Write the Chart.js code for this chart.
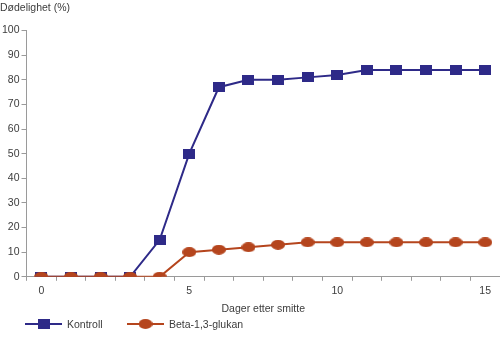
<!DOCTYPE html>
<html>
<head>
<meta charset="utf-8">
<script src="https://cdn.jsdelivr.net/npm/chart.js@4"></script>
<style>
  html, body { margin: 0; padding: 0; background: #fff; overflow: hidden; }
  /* canvas is a little wider than the window: Chart.js keeps a gap on the right */
  #wrap { width: 506px; height: 340px; position: relative; }
</style>
</head>
<body>
<div id="wrap"><canvas id="chart"></canvas></div>
<script>
// ── Data ─────────────────────────────────────────────────────
const days      = [0, 1, 2, 3, 4, 5, 6, 7, 8, 9, 10, 11, 12, 13, 14, 15];
const kontroll  = [0, 0, 0, 0, 15, 50, 77, 80, 80, 81, 82, 84, 84, 84, 84, 84];
const betaGlukan = [0, 0, 0, 0, 0, 10, 11, 12, 13, 14, 14, 14, 14, 14, 14, 14];
const shownDays = [0, 5, 10, 15];

const BLUE   = '#2e2a88';
const ORANGE = '#b5451d';
const TEXT   = '#3c3c3c';
const AXIS   = '#9a9a9a';
const FONT   = "'Liberation Sans', Arial, sans-serif";

// markers are slightly wider than tall in the original
function marker(shape, w, h, color) {
  const c = document.createElement('canvas');
  c.width = w; c.height = h;
  const g = c.getContext('2d');
  g.fillStyle = color;
  if (shape === 'rect') g.fillRect(0, 0, w, h);
  else { g.beginPath(); g.ellipse(w / 2, h / 2, w / 2, h / 2, 0, 0, Math.PI * 2); g.fill(); }
  return c;
}
const squareMark  = marker('rect', 12, 10, BLUE);
const ellipseMark = marker('ellipse', 14, 10, ORANGE);

// ── Legend drawn below the axis title ────────────────────────
const bottomLegend = {
  id: 'bottomLegend',
  afterDraw(chart) {
    const ctx = chart.ctx;
    const y = 324;
    const items = [
      { x: 25,  label: 'Kontroll',       color: BLUE,   img: squareMark },
      { x: 127, label: 'Beta-1,3-glukan', color: ORANGE, img: ellipseMark }
    ];
    ctx.save();
    items.forEach(it => {
      ctx.strokeStyle = it.color;
      ctx.lineWidth = 2;
      ctx.beginPath();
      ctx.moveTo(it.x, y); ctx.lineTo(it.x + 37, y);
      ctx.stroke();
      ctx.drawImage(it.img, it.x + 18.5 - it.img.width / 2, y - it.img.height / 2);
      ctx.fillStyle = TEXT;
      ctx.font = '10.5px ' + FONT;
      ctx.textBaseline = 'middle';
      ctx.fillText(it.label, it.x + 42, y + 1);
    });
    ctx.restore();
  }
};

const ctx = document.getElementById('chart').getContext('2d');
new Chart(ctx, {
  type: 'line',
  data: {
    labels: days,
    datasets: [
      {
        label: 'Kontroll',
        data: kontroll,
        borderColor: BLUE,
        backgroundColor: BLUE,
        borderWidth: 2,
        pointStyle: squareMark,
        tension: 0,
        order: 2
      },
      {
        label: 'Beta-1,3-glukan',
        data: betaGlukan,
        borderColor: ORANGE,
        backgroundColor: ORANGE,
        borderWidth: 2,
        pointStyle: ellipseMark,
        tension: 0,
        order: 1
      }
    ]
  },
  options: {
    responsive: true,
    maintainAspectRatio: false,
    animation: false,
    layout: { padding: { left: 0, right: 0, top: 0, bottom: 25 } },
    plugins: {
      legend: { display: false },
      tooltip: { enabled: false },
      title: {
        display: true,
        text: 'Dødelighet (%)',
        align: 'start',
        color: TEXT,
        font: { family: FONT, size: 10.5, weight: 'normal' },
        padding: { top: 2, bottom: 16 }
      }
    },
    scales: {
      x: {
        type: 'category',
        offset: true,
        grid: { offset: true, drawOnChartArea: false, drawTicks: true, tickLength: 4, color: AXIS },
        border: { color: AXIS, width: 1 },
        ticks: {
          autoSkip: false,
          maxRotation: 0,
          padding: 4,
          color: TEXT,
          font: { family: FONT, size: 10.5 },
          callback(v, i) { return shownDays.includes(days[i]) ? String(days[i]) : ''; }
        },
        title: {
          display: true,
          text: 'Dager etter smitte',
          color: TEXT,
          font: { family: FONT, size: 10.5 },
          padding: { top: 1, bottom: 0 }
        }
      },
      y: {
        min: 0,
        max: 100,
        grid: { drawOnChartArea: false, drawTicks: true, tickLength: 5, color: AXIS },
        border: { color: AXIS, width: 1 },
        ticks: {
          stepSize: 10,
          padding: 2,
          color: TEXT,
          font: { family: FONT, size: 10.5 }
        }
      }
    }
  },
  plugins: [bottomLegend]
});
</script>
</body>
</html>
